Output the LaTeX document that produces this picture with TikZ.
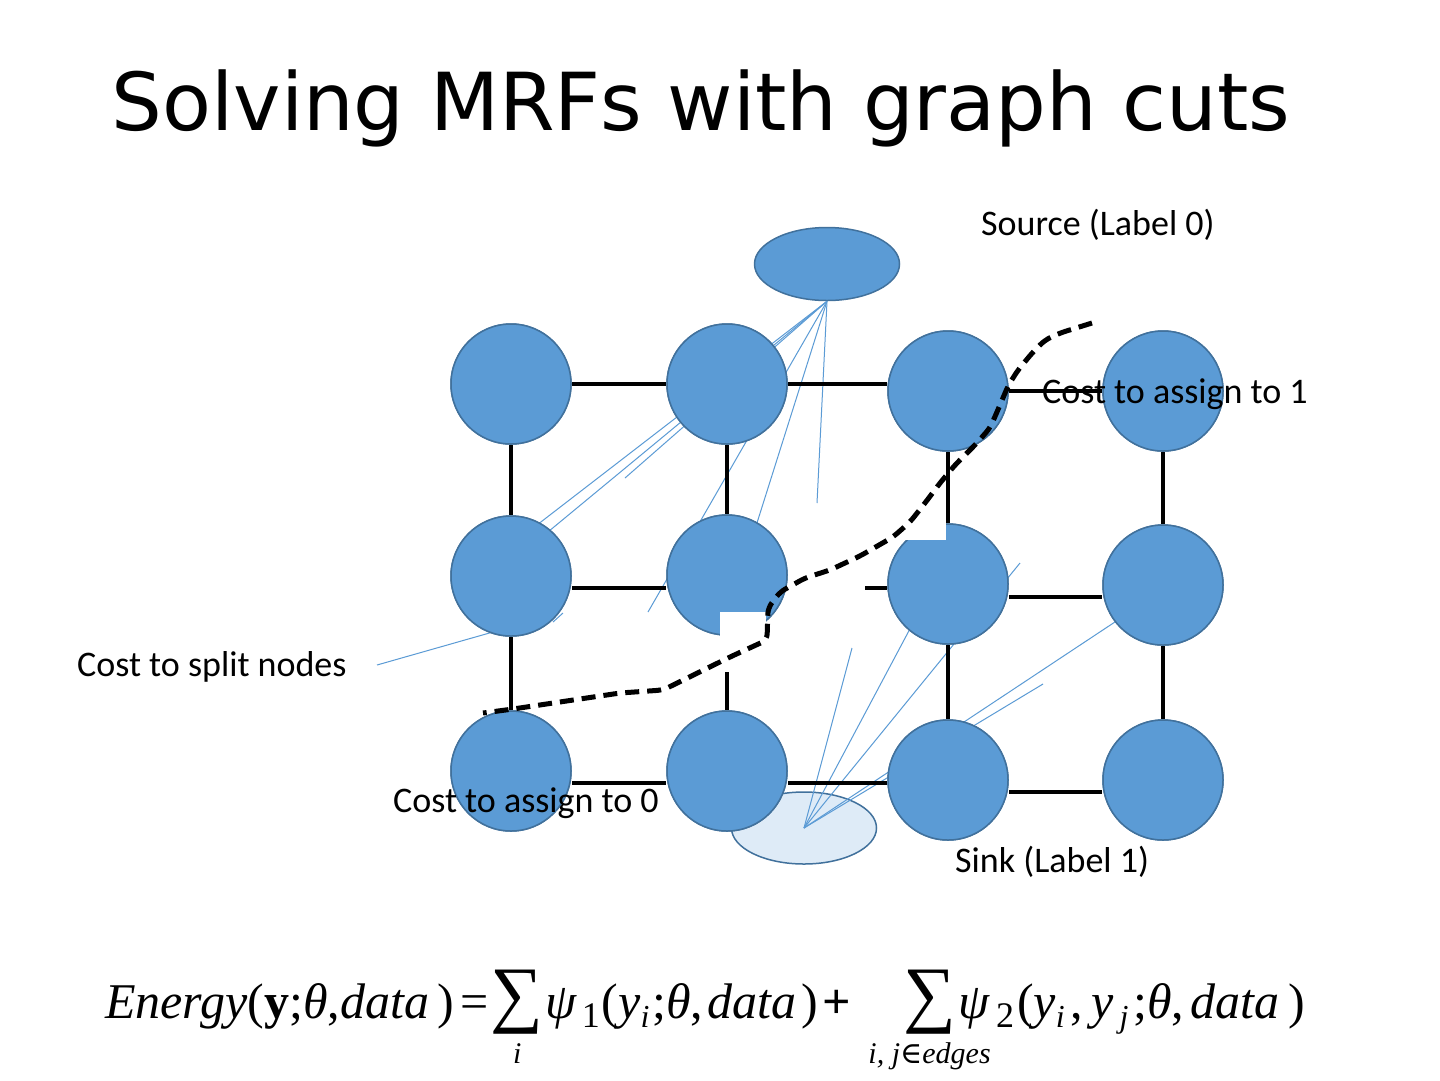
\documentclass[tikz,border=0pt]{standalone}
\usepackage{fontspec}
\setmainfont{Carlito}
\newfontfamily\titlef{DejaVu Sans}
\newfontfamily\eqf{Liberation Serif}
\newfontfamily\symf{DejaVu Serif}
\usetikzlibrary{shapes.geometric}
\definecolor{nodeblue}{HTML}{5B9BD5}
\definecolor{nodeedge}{HTML}{41719C}
\definecolor{sinkfill}{HTML}{DEEBF7}
\newcommand\lowsub[1]{\raisebox{-9pt}{\fontsize{36}{36}\selectfont #1}}
\newcommand\lowi[1]{\raisebox{-9pt}{\fontsize{32}{32}\selectfont\itshape #1}}
\begin{document}
\begin{tikzpicture}[x=1pt,y=-1pt,
  gnode/.style={circle,fill=nodeblue,draw=nodeedge,line width=1.5pt,minimum size=120pt,inner sep=0pt},
  edge/.style={line width=4.5pt,black},
  wire/.style={nodeblue,line width=1pt},
  cut/.style={line width=5pt,dash pattern=on 14pt off 8pt,rounded corners=6pt},
  lab/.style={font=\fontsize{36}{40}\selectfont,anchor=base west,inner sep=0pt},
  eqpart/.style={font=\eqf\fontsize{50}{54}\selectfont,inner sep=0pt,anchor=base west},
  bigsum/.style={font=\eqf\fontsize{74}{74}\selectfont,inner sep=0pt,anchor=base west},
  limit/.style={font=\eqf\itshape\fontsize{30}{30}\selectfont,inner sep=0pt,anchor=base},
]
\useasboundingbox[fill=white] (0,0) rectangle (1440,1080);

% title
\node[font=\titlef\fontsize{80}{90}\selectfont,anchor=base,inner sep=0pt] (title) at (701,130) {Solving MRFs with graph cuts};

% sink ellipse
\node[ellipse,fill=sinkfill,draw=nodeedge,line width=1.5pt,minimum width=145pt,minimum height=72pt,inner sep=0pt] (sink) at (804,828) {};

% source ellipse
\node[ellipse,fill=nodeblue,draw=nodeedge,line width=1.5pt,minimum width=145pt,minimum height=73pt,inner sep=0pt] (src) at (827,264) {};

% free ends of thin lines
\coordinate (sa) at (524,535);
\coordinate (sb) at (537,541);
\coordinate (sc) at (625,478);
\coordinate (sd) at (648,612);
\coordinate (se) at (750,545);
\coordinate (sf) at (817,503);
\coordinate (ta) at (852,648);
\coordinate (tb) at (920,610);
\coordinate (tc) at (1020,563);
\coordinate (td) at (1043,684);
\coordinate (te) at (1130,612);
\coordinate (ka) at (553,622);
\coordinate (kb) at (563,613);
\coordinate (splitend) at (500,630);
\coordinate (splitstart) at (377,665);

% thin lines (under the nodes)
\foreach \p in {sa,sb,sc,sd,se,sf} \draw[wire] (src.south) -- (\p);
\foreach \p in {ta,tb,tc,td,te} \draw[wire] (sink.center) -- (\p);
\draw[wire] (ka) -- (kb);
\draw[wire] (splitstart) -- (splitend);

% grid positions
\coordinate (p11) at (511,384); \coordinate (p12) at (727,384);
\coordinate (p13) at (948,391); \coordinate (p14) at (1163,391);
\coordinate (p21) at (511,576); \coordinate (p22) at (727,575);
\coordinate (p23) at (948,584); \coordinate (p24) at (1163,585);
\coordinate (p31) at (511,771); \coordinate (p32) at (727,771);
\coordinate (p33) at (948,780); \coordinate (p34) at (1163,780);

% grid nodes
\foreach \n in {11,12,13,14,21,22,23,24,31,32,33,34}
  \node[gnode] (n\n) at (p\n) {};

% black edges
\draw[edge] (n11.east) -- (n11.east -| n12.west);
\draw[edge] (n12.east) -- (n12.east -| n13.west);
\draw[edge] (n13.east) -- (n13.east -| n14.west);
\draw[edge] ([yshift=-12pt]n21.east) -- ([yshift=-12pt]n21.east -| n22.west);
\coordinate (stub) at (865,588);
\draw[edge] (stub) -- (stub -| n23.west);
\draw[edge] ([yshift=-13pt]n23.east) -- ([yshift=-13pt]n23.east -| n24.west);
\draw[edge] ([yshift=-12pt]n31.east) -- ([yshift=-12pt]n31.east -| n32.west);
\draw[edge] ([yshift=-12pt]n32.east) -- ([yshift=-12pt]n32.east -| n33.west);
\draw[edge] ([yshift=-12pt]n33.east) -- ([yshift=-12pt]n33.east -| n34.west);
\draw[edge] (n11.south) -- (n21.north);
\draw[edge] (n12.south) -- (n22.north);
\draw[edge] (n13.south) -- (n23.north);
\draw[edge] (n14.south) -- (n24.north);
\draw[edge] (n21.south) -- (n31.north);
\coordinate (c2top) at (727,672);
\draw[edge] (c2top) -- (n32.north);
\draw[edge] (n23.south) -- (n33.north);
\draw[edge] (n24.south) -- (n34.north);

% nodes again on top of edges and wires
\foreach \n in {11,12,13,14,21,22,23,24,31,32,33,34}
  \node[gnode] at (p\n) {};

% white patches
\fill[white] (880,505) rectangle (946,540);
\fill[white] (720,612) rectangle (766,640);

% the cut
\coordinate (cutA) at (1092,323);
\coordinate (cutB) at (483,713);
\draw[cut] (cutA) -- (1060,333) -- (1045,340) -- (1033,352) -- (1018,370) -- (1008,386) -- (1000,405) -- (990,428) -- (975,445) -- (955,465) -- (940,483) -- (925,503) -- (910,522) -- (893,537) -- (860,556) -- (830,570) -- (805,578) -- (780,592) -- (768,608) -- (767,640) -- (730,657) -- (663,690) -- (620,693) -- (513,709) -- (cutB);

% labels
\node[lab] (split) at (77,676) {Cost to split nodes};
\node[lab] (srclab) at (981,235) {Source (Label 0)};
\node[lab] (as1) at (1042,403) {Cost to assign to 1};
\node[lab] (as0) at (393,812) {Cost to assign to 0};
\node[lab] (sinklab) at (955,872) {Sink (Label 1)};

% equation
\node[eqpart] (eqA) at (105,1018) {\textit{Energy}(\textbf{y};\textit{θ},\textit{data}\,)\hspace{6pt}=};
\node[bigsum] (sumA) at ([xshift=2pt]eqA.base east) {∑};
\node[eqpart] (eqB) at ([xshift=2pt]sumA.base east) {\textit{ψ}\hspace{4pt}\lowsub{1}\hspace{2pt}(\textit{y}\lowi{i}\hspace{3pt};\textit{θ},\hspace{4pt}\textit{data}\hspace{5pt})\hspace{4pt}\textbf{+}};
\node[bigsum] (sumB) at (903,1018) {∑};
\node[eqpart] (eqC) at ([xshift=2pt]sumB.base east) {\textit{ψ}\hspace{6pt}\lowsub{2}\hspace{3pt}(\textit{y}\lowi{i}\hspace{6pt},\hspace{8pt}\textit{y}\hspace{6pt}\lowi{j}\hspace{5pt};\textit{θ},\hspace{6pt}\textit{data}\hspace{9pt})};
\node[limit] (lim1) at ([yshift=-45pt]sumA.base) {i};
\node[limit] (lim2) at ([yshift=-45pt]sumB.base) {i, j{\symf\upshape ∈}edges};
\end{tikzpicture}
\end{document}
